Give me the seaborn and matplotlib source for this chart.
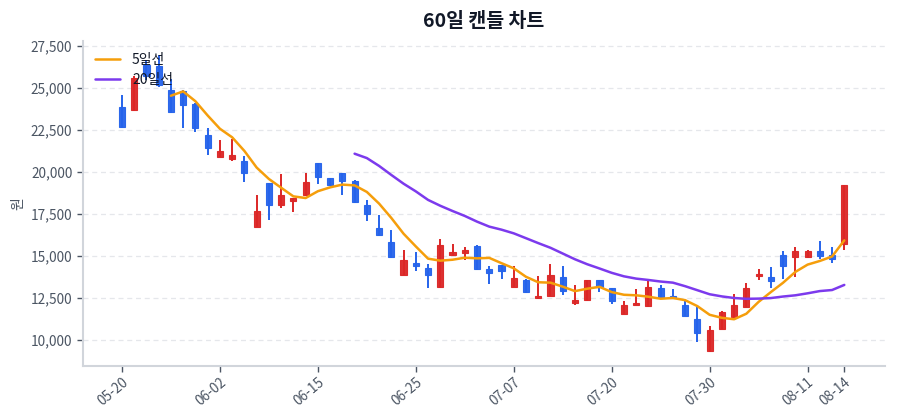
import numpy as np
import pandas as pd
import matplotlib
matplotlib.use("Agg")
import matplotlib.pyplot as plt
import seaborn as sns
from matplotlib.ticker import FuncFormatter

dates = ["05-20", "05-21", "05-22", "05-23", "05-26", "05-27", "05-28", "05-30",
         "06-02", "06-04", "06-05", "06-09", "06-10", "06-11", "06-12", "06-13",
         "06-15", "06-16", "06-17", "06-18", "06-19", "06-20", "06-23", "06-24",
         "06-25", "06-26", "06-27", "06-30", "07-01", "07-02", "07-03", "07-04",
         "07-07", "07-08", "07-09", "07-10", "07-11", "07-14", "07-15", "07-17",
         "07-20", "07-21", "07-22", "07-23", "07-24", "07-25", "07-28", "07-29",
         "07-30", "07-31", "08-01", "08-04", "08-05", "08-06", "08-07", "08-08",
         "08-11", "08-12", "08-13", "08-14"]

opens = [23900, 23700, 26400, 26300, 24900, 24850, 24050, 22200, 20900, 20780,
         20650, 16730, 19330, 18050, 18270, 18600, 20520, 19620, 19920, 19480,
         18040, 16690, 15830, 13870, 14600, 14300, 13130, 15040, 15160, 15610,
         14230, 14430, 13140, 13550, 12460, 12600, 13750, 12200, 12340, 13550,
         13080, 11530, 12080, 11980, 13080, 12620, 12080, 11230, 9300, 10640,
         11330, 11950, 13770, 13710, 15040, 14960, 14920, 15300, 15060, 15710]
highs = [24600, 25700, 26700, 26950, 25550, 24900, 24100, 22650, 21900, 21950,
         20970, 18610, 19350, 19880, 18450, 19970, 20540, 19620, 19930, 19500,
         18330, 17440, 16550, 15360, 15200, 14500, 16000, 15710, 15520, 15620,
         14400, 14450, 14400, 13600, 13770, 14520, 14420, 13270, 13560, 13560,
         13100, 12320, 13020, 13470, 13270, 13020, 12280, 11920, 10830, 11690,
         12740, 13370, 14210, 14360, 15310, 15520, 15360, 15890, 15500, 19230]
lows = [22600, 23650, 25500, 25100, 23500, 22600, 22400, 21000, 20880, 20650,
        19400, 16700, 17150, 17880, 17640, 18580, 19270, 19180, 18630, 18150,
        17050, 16200, 14900, 13850, 14100, 13080, 13100, 15020, 14760, 14150,
        13330, 13630, 13120, 12800, 12450, 12580, 12640, 12080, 12330, 12840,
        12140, 11520, 12070, 11960, 12530, 12480, 11420, 9840, 9280, 10620,
        11320, 11940, 13530, 13080, 13610, 13730, 14860, 14800, 14600, 15360]
closes = [22700, 25600, 25700, 25200, 23550, 24000, 22650, 21450, 21250, 21000,
          19930, 17700, 18050, 18630, 18430, 19430, 19730, 19200, 19460, 18190,
          17480, 16250, 14920, 14760, 14400, 13830, 15650, 15200, 15360, 14210,
          13970, 14070, 13670, 12830, 12580, 13850, 12880, 12340, 13550, 13140,
          12280, 12080, 12180, 13130, 12540, 12500, 11430, 10400, 10550, 11630,
          12080, 13080, 13930, 13470, 14420, 15300, 15260, 15020, 14800, 19230]

title = "60일 캔들 차트"
ylabel = "원"
ma_labels = ["5일선", "20일선"]

UP = "#dc2626"
DOWN = "#2563eb"
MA5_C = "#f59e0b"
MA20_C = "#7c3aed"

df = pd.DataFrame({"date": dates, "open": opens, "high": highs,
                   "low": lows, "close": closes})
df["idx"] = np.arange(len(df))
df["ma5"] = df["close"].rolling(5).mean()
df["ma20"] = df["close"].rolling(20).mean()
df["up"] = df["close"] >= df["open"]
df["color"] = np.where(df["up"], UP, DOWN)

sns.set_theme(style="white")
plt.rcParams["font.family"] = ["Noto Sans CJK KR", "DejaVu Sans"]
plt.rcParams["axes.unicode_minus"] = False

fig = plt.figure(figsize=(9, 4.2), dpi=100)
ax = fig.add_axes([0.092, 0.129, 0.891, 0.774])

ax.yaxis.grid(True, linestyle=(0, (4, 3)), color="#e5e7eb", linewidth=0.9)
ax.xaxis.grid(False)
ax.set_axisbelow(True)

# wicks
ax.vlines(df["idx"], df["low"], df["high"], colors=df["color"], linewidth=1.4, zorder=2)
# bodies
bottoms = np.minimum(df["open"], df["close"])
heights = np.abs(df["close"] - df["open"])
heights = np.maximum(heights, 60)
ax.bar(df["idx"], heights, bottom=bottoms, width=0.5, color=df["color"],
       edgecolor=df["color"], linewidth=0.8, alpha=0.95, zorder=3)

sns.lineplot(data=df, x="idx", y="ma5", ax=ax, color=MA5_C, linewidth=1.8,
             label=ma_labels[0], zorder=4)
sns.lineplot(data=df, x="idx", y="ma20", ax=ax, color=MA20_C, linewidth=1.8,
             label=ma_labels[1], zorder=4)

ax.set_xlim(-3.2, 62.3)
ax.set_ylim(8440, 27830)

tick_idx = list(range(0, len(df), 8))
if tick_idx[-1] != len(df) - 1:
    tick_idx.append(len(df) - 1)
ax.set_xticks(tick_idx)
ax.set_xticklabels([dates[i] for i in tick_idx], rotation=40, ha="right",
                   rotation_mode="anchor")
ax.set_yticks(np.arange(10000, 27501, 2500))
ax.yaxis.set_major_formatter(FuncFormatter(lambda v, p: f"{int(v):,}"))

ax.tick_params(axis="both", colors="#4b5563", labelsize=9.8, length=4, width=1,
               direction="out", bottom=True, left=True)
ax.tick_params(axis="x", pad=3)

for s in ["top", "right"]:
    ax.spines[s].set_visible(False)
for s in ["left", "bottom"]:
    ax.spines[s].set_color("#d1d5db")
    ax.spines[s].set_linewidth(1.5)

ax.set_xlabel("")
ax.set_ylabel(ylabel, color="#4b5563", fontsize=10)
ax.set_title(title, fontsize=14, fontweight="bold", color="#111827", pad=10)

leg = ax.legend(loc="upper left", frameon=False, fontsize=10,
                handlelength=1.8, handletextpad=0.9, borderaxespad=0.45,
                labelspacing=0.45)
for t in leg.get_texts():
    t.set_color("#111827")

fig.savefig("out.png", dpi=100)
